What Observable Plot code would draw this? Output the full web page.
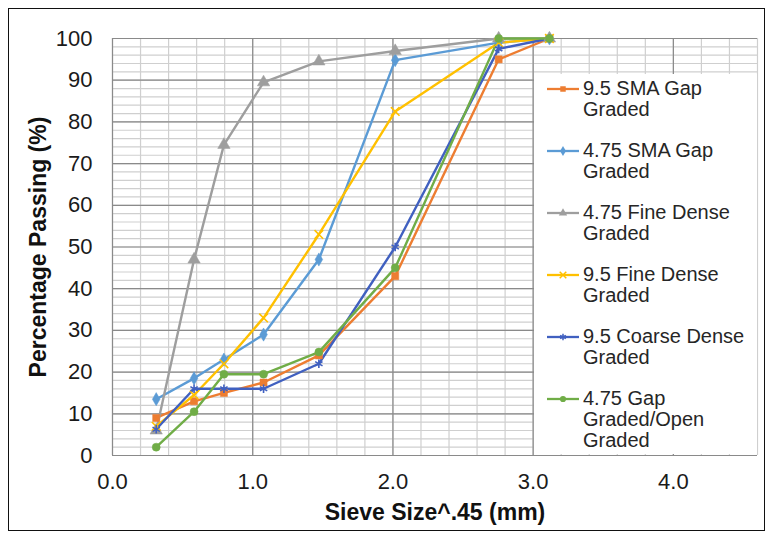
<!DOCTYPE html>
<html>
<head>
<meta charset="utf-8">
<script src="https://cdn.jsdelivr.net/npm/d3@7"></script>
<script src="https://cdn.jsdelivr.net/npm/@observablehq/plot@0.6"></script>
<style>
  html, body { margin: 0; padding: 0; background: #fff; }
  #chart { position: relative; width: 772px; height: 540px; font-family: "Liberation Sans", Arial, sans-serif; }
  #frame { position: absolute; left: 8px; top: 8px; width: 757px; height: 523px; border: 1.5px solid #111; box-sizing: border-box; pointer-events: none; }
  #legend { position: absolute; left: 534px; top: 74px; width: 223px; height: 380px; background: #fff; }
  .entry { position: absolute; left: 0; width: 223px; }
  .entry svg { position: absolute; left: 12px; top: 4px; }
  .entry div { position: absolute; left: 49px; top: 0; font-size: 20px; line-height: 21px; color: #262626; white-space: nowrap; }
</style>
</head>
<body>
<div id="chart"><div id="frame"></div></div>
<script>
// Sieve openings (mm); the x axis plots size^0.45
const sieveMM = [0.075, 0.3, 0.6, 1.18, 2.36, 4.75, 9.5, 12.5];

// Percentage passing for each mix
const sma95    = [9, 13, 15, 17.5, 24, 43, 95, 100];
const sma475   = [13.5, 18.5, 23, 29, 47, 94.8, 99, 100];
const fine475  = [6, 47, 74.5, 89.5, 94.5, 97, 100, 100];
const fine95   = [7, 14.5, 22, 33, 53, 82.5, 99, 100];
const coarse95 = [6.3, 16, 16, 16, 22, 50, 97.5, 100];
const gap475   = [2, 10.5, 19.5, 19.5, 24.8, 45, 100, 100];

const seriesNames = [
  "9.5 SMA Gap Graded",
  "4.75 SMA Gap Graded",
  "4.75 Fine Dense Graded",
  "9.5 Fine Dense Graded",
  "9.5 Coarse Dense Graded",
  "4.75 Gap Graded/Open Graded"
];
const legendLines = [
  ["9.5 SMA Gap", "Graded"],
  ["4.75 SMA Gap", "Graded"],
  ["4.75 Fine Dense", "Graded"],
  ["9.5 Fine Dense", "Graded"],
  ["9.5 Coarse Dense", "Graded"],
  ["4.75 Gap", "Graded/Open", "Graded"]
];
const seriesValues = [sma95, sma475, fine475, fine95, coarse95, gap475];
const seriesColors = ["#ED7D31", "#5B9BD5", "#9E9E9E", "#FFC000", "#4060C0", "#70AD47"];
const seriesSymbols = ["square", "diamond", "triangle", "times", "asterisk", "circle"];
const strokeOnly = new Set(["times", "asterisk"]);

const xTicks = [0, 1, 2, 3, 4];
const yTicks = [0, 10, 20, 30, 40, 50, 60, 70, 80, 90, 100];

const rows = seriesNames.flatMap((name, i) =>
  sieveMM.map((mm, j) => ({series: name, x: Math.pow(mm, 0.45), y: seriesValues[i][j]}))
);

const xMinor = d3.range(0, 24).map(i => +(i * 0.2).toFixed(1));
const yMinor = d3.range(0, 101, 2);

const dotMarks = seriesNames.map((name, i) => {
  const sym = seriesSymbols[i];
  const opts = {x: "x", y: "y", symbol: () => sym, r: sym === "triangle" ? 4.6 : 4};
  if (strokeOnly.has(sym)) { opts.stroke = seriesColors[i]; opts.strokeWidth = 1.6; opts.fill = "none"; }
  else { opts.fill = seriesColors[i]; opts.stroke = seriesColors[i]; opts.strokeWidth = 0.5; }
  return Plot.dot(rows.filter(d => d.series === name), opts);
});

const plot = Plot.plot({
  width: 772,
  height: 540,
  marginLeft: 112,
  marginRight: 15,
  marginTop: 38,
  marginBottom: 85,
  style: {fontFamily: "'Liberation Sans', Arial, sans-serif", background: "transparent", color: "#1a1a1a"},
  x: {domain: [0, 4.6]},
  y: {domain: [0, 100]},
  symbol: {type: "identity"},
  color: {domain: seriesNames, range: seriesColors},
  marks: [
    Plot.ruleX(xMinor, {stroke: "#cfcfcf", strokeWidth: 1.2}),
    Plot.ruleY(yMinor, {stroke: "#cfcfcf", strokeWidth: 1.2}),
    Plot.ruleX(xTicks, {stroke: "#8a8a8a", strokeWidth: 1.2}),
    Plot.ruleY(yTicks, {stroke: "#8a8a8a", strokeWidth: 1.2}),
    Plot.axisX(xTicks, {tickSize: 0, tickPadding: 18, fontSize: 22, tickFormat: d => d.toFixed(1), label: null}),
    Plot.axisY(yTicks, {tickSize: 0, tickPadding: 20, fontSize: 22, label: null}),
    Plot.text(["Sieve Size^.45 (mm)"], {frameAnchor: "bottom", dy: 57, fontSize: 23, fontWeight: "bold", fill: "#111", textAnchor: "middle", lineAnchor: "middle"}),
    Plot.text(["Percentage Passing (%)"], {frameAnchor: "left", dx: -74, rotate: -90, fontSize: 23, fontWeight: "bold", fill: "#111", textAnchor: "middle", lineAnchor: "middle"}),
    Plot.line(rows, {x: "x", y: "y", z: "series", stroke: "series", strokeWidth: 2.4}),
    ...dotMarks
  ]
});

const chart = document.getElementById("chart");
chart.insertBefore(plot, chart.firstChild);
plot.style.position = "absolute";
plot.style.left = "0px";
plot.style.top = "0px";

// Legend panel on the right side of the plot area
const legend = document.createElement("div");
legend.id = "legend";
chart.appendChild(legend);
seriesNames.forEach((name, i) => {
  const entry = document.createElement("div");
  entry.className = "entry";
  entry.style.top = (3.5 + i * 62) + "px";
  const sw = d3.create("svg").attr("width", 34).attr("height", 14);
  sw.append("line").attr("x1", 1).attr("x2", 33).attr("y1", 7).attr("y2", 7)
    .attr("stroke", seriesColors[i]).attr("stroke-width", 2.3);
  const sym = seriesSymbols[i];
  const symType = {square: d3.symbolSquare, diamond: d3.symbolDiamond, triangle: d3.symbolTriangle,
    times: d3.symbolTimes, asterisk: d3.symbolAsterisk, circle: d3.symbolCircle}[sym];
  const p = sw.append("path").attr("transform", "translate(17,7)").attr("d", d3.symbol(symType, 30)());
  if (strokeOnly.has(sym)) p.attr("fill", "none").attr("stroke", seriesColors[i]).attr("stroke-width", 1.5);
  else p.attr("fill", seriesColors[i]);
  entry.appendChild(sw.node());
  const txt = document.createElement("div");
  txt.innerHTML = legendLines[i].join("<br>");
  entry.appendChild(txt);
  legend.appendChild(entry);
});
chart.appendChild(document.getElementById("frame"));
</script>
</body>
</html>
